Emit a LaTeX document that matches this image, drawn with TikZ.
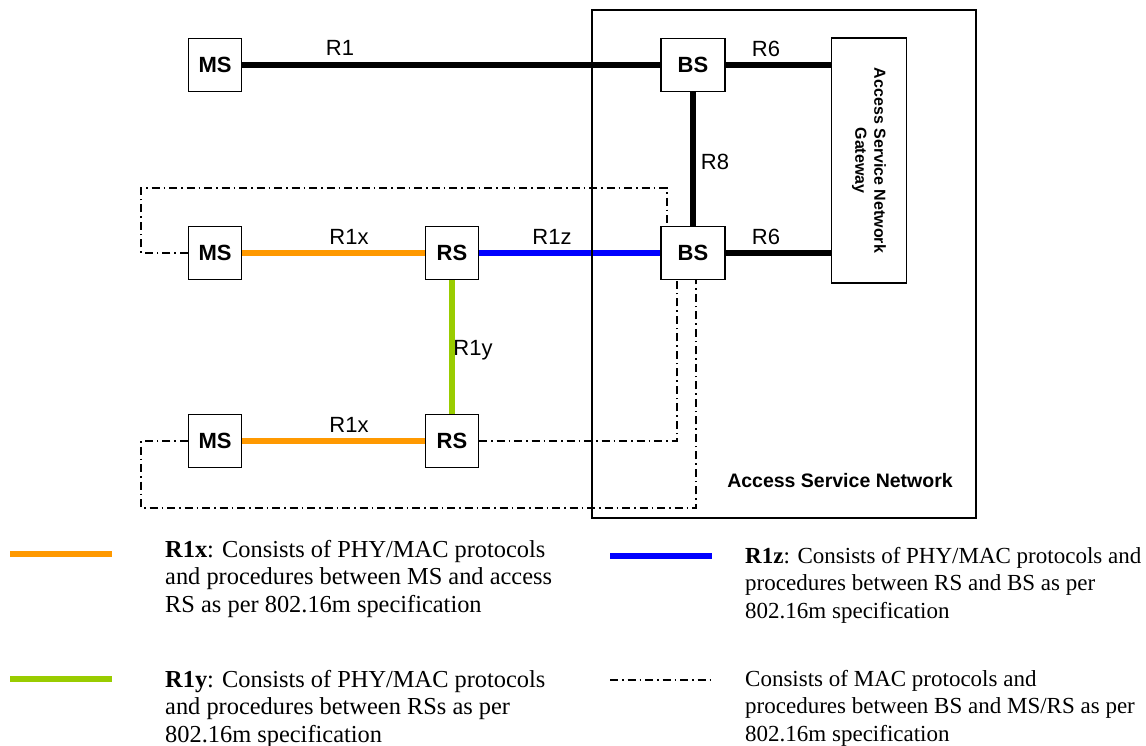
\documentclass[tikz,border=0pt]{standalone}
\usepackage{fontspec}
\setmainfont{Liberation Serif}
\newfontfamily\arialfont{Liberation Sans}
\definecolor{linkorange}{RGB}{255,153,0}
\definecolor{linkgreen}{RGB}{153,204,0}
\definecolor{linkblue}{RGB}{0,0,255}
\begin{document}
\begin{tikzpicture}[x=1pt,y=-1pt,
  box/.style={draw, line width=1.3pt, minimum height=53pt, inner sep=0pt,
    font=\arialfont\bfseries\fontsize{22}{26}\selectfont},
  msbox/.style={box, minimum width=53pt},
  bsbox/.style={box, minimum width=64pt},
  lbl/.style={font=\arialfont\fontsize{22}{26}\selectfont, inner sep=0pt},
  link/.style={line width=6.5pt},
  ctrl/.style={line width=1.3pt, dash pattern=on 8pt off 4pt on 1.5pt off 4pt},
  legtext/.style={anchor=north west, align=left, inner sep=0pt,
    font=\fontsize{24.4}{27.5}\selectfont},
  legtextr/.style={legtext, font=\fontsize{23}{27.5}\selectfont}]
\useasboundingbox (0,0) rectangle (1146,746);

% network elements
\node[msbox] (ms1) at (215,65) {MS};
\node[bsbox] (bs1) at (693,65) {BS};
\node[msbox] (ms2) at (215,253) {MS};
\node[msbox] (rs1) at (452,253) {RS};
\node[bsbox] (bs2) at (693,253) {BS};
\node[msbox] (ms3) at (215,441) {MS};
\node[msbox] (rs2) at (452,441) {RS};
\node[draw, line width=1.3pt, minimum width=75pt, minimum height=245pt] (gw) at (869,160.5) {};
\node[rotate=-90, align=center, inner sep=0pt,
  font=\arialfont\bfseries\fontsize{16}{19}\selectfont] (gwtext) at (gw.center)
  {Access Service Network\\Gateway};

% reference points links
\draw[link] (ms1) -- (bs1);
\draw[link] (bs1) -- (bs1 -| gw.west);
\draw[link] (bs1) -- (bs2);
\draw[link] (bs2) -- (bs2 -| gw.west);
\draw[link, linkorange] (ms2) -- (rs1);
\draw[link, linkblue] (rs1) -- (bs2);
\draw[link, linkgreen] (rs1) -- (rs2);
\draw[link, linkorange] (ms3) -- (rs2);

\node[lbl] (lr1) at (340,48) {R1};
\node[lbl] (lr6a) at (766,49) {R6};
\node[lbl] (lr8) at (715,162) {R8};
\node[lbl] (lr1xa) at (349,237) {R1x};
\node[lbl] (lr1z) at (552,237) {R1z};
\node[lbl] (lr6b) at (766,237) {R6};
\node[lbl] (lr1y) at (473,350) {R1y};
\node[lbl] (lr1xb) at (349,425) {R1x};

% MAC control paths
\coordinate (c1) at (141,188);
\coordinate (c2) at (141,508);
\draw[ctrl] (ms2.west) -| (c1) -| ([xshift=-26pt]bs2.north);
\draw[ctrl] (rs2.east) -| ([xshift=-16pt]bs2.south);
\draw[ctrl] (ms3.west) -| (c2) -| ([xshift=3pt]bs2.south);

% access service network
\node[draw, line width=2pt, minimum width=384pt, minimum height=508pt, inner sep=0pt] (asn) at (784,264) {};
\node[font=\arialfont\bfseries\fontsize{19.5}{23}\selectfont, inner sep=0pt] (asnlbl) at (840,481) {Access Service Network};

% legend
\draw[line width=6pt, linkorange] (10,554) -- (112,554);
\draw[line width=6pt, linkgreen] (10,679) -- (112,679);
\draw[line width=6pt, linkblue] (610,556) -- (712,556);
\draw[ctrl] (610,680) -- (712,680);
\node[legtext] (t1x) at (165,540) {\textbf{R1x}: Consists of PHY/MAC protocols\\and procedures between MS and access\\RS as per 802.16m specification};
\node[legtext] (t1y) at (165,670) {\textbf{R1y}: Consists of PHY/MAC protocols\\and procedures between RSs as per\\802.16m specification};
\node[legtextr] (t1z) at (745,547) {\textbf{R1z}: Consists of PHY/MAC protocols and\\procedures between RS and BS as per\\802.16m specification};
\node[legtextr] (tmac) at (745,670) {Consists of MAC protocols and\\procedures between BS and MS/RS as per\\802.16m specification};
\end{tikzpicture}
\end{document}
